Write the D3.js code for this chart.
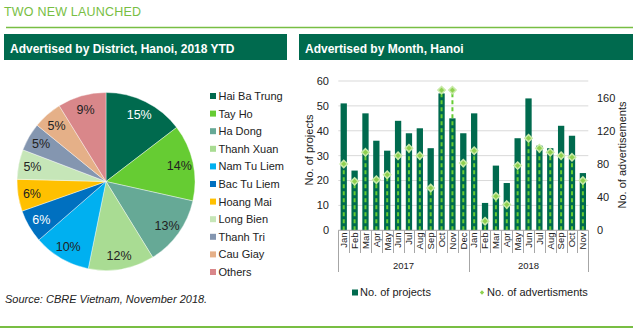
<!DOCTYPE html>
<html>
<head>
<meta charset="UTF-8">
<title>Two New Launched</title>
<script src="https://d3js.org/d3.v7.min.js"></script>
<style>
    * { margin: 0; padding: 0; }
    body { background: #fff; width: 633px; height: 335px; overflow: hidden; }
    svg { display: block; font-family: 'Liberation Sans', Arial, sans-serif; }
    .hdr { fill: #fff; font-size: 12px; font-weight: bold; }
    .tick-lbl { font-size: 11px; fill: #222; }
    .month-lbl { font-size: 9.5px; fill: #222; }
    .leg { font-size: 11px; fill: #222; }
</style>
</head>
<body>
<div id="chart"></div>
<script>
    // Pie data - share of advertised projects by district
    const districts = ["Hai Ba Trung", "Tay Ho", "Ha Dong", "Thanh Xuan", "Nam Tu Liem", "Bac Tu Liem",
        "Hoang Mai", "Long Bien", "Thanh Tri", "Cau Giay", "Others"];
    const districtShare = [14.6, 13.9, 12.7, 12.0, 10.4, 6.0, 5.8, 5.4, 5.1, 5.3, 8.8];

    // Bar/line data by month
    const years = ["2017", "2018"];
    const months2017 = ["Jan", "Feb", "Mar", "Apr", "May", "Jun", "Jul", "Aug", "Sep", "Oct", "Nov", "Dec"];
    const months2018 = ["Jan", "Feb", "Mar", "Apr", "May", "Jun", "Jul", "Aug", "Sep", "Oct", "Nov"];
    const projects = [51, 24, 47, 36, 32, 44, 39, 41, 33, 55, 45, 39,
                      47, 11, 26, 19, 37, 53, 34, 33, 42, 38, 23];
    const adverts = [80, 59, 94, 61, 67, 90, 99, 90, 51, 169, 169, 81,
                     96, 11, 41, 31, 78, 111, 99, 94, 90, 88, 60];
    const leftTicks = [0, 10, 20, 30, 40, 50, 60];
    const rightTicks = [0, 40, 80, 120, 160];

    const pieColors = ["#006a4e", "#66cc33", "#66a996", "#a9dc93", "#00b0f0", "#0070c0",
        "#ffc000", "#c6e6b8", "#8496b0", "#e5b088", "#d9878a"];
    const whiteLabels = [0, 5];

    const W = 633, H = 335;
    const svg = d3.select("#chart").append("svg")
        .attr("width", W).attr("height", H);

    // ---- page frame ----
    svg.append("text")
        .attr("x", 4).attr("y", 16)
        .attr("fill", "#78be43")
        .style("font-size", "12.5px")
        .style("letter-spacing", "0.2px")
        .text("TWO NEW LAUNCHED");
    svg.append("line").attr("x1", 6).attr("x2", W).attr("y1", 27.5).attr("y2", 27.5)
        .attr("stroke", "#78be43").attr("stroke-width", 1.5);
    svg.append("line").attr("x1", 0).attr("x2", W).attr("y1", 327).attr("y2", 327)
        .attr("stroke", "#78be43").attr("stroke-width", 2);

    svg.append("rect").attr("x", 4).attr("y", 34).attr("width", 283).attr("height", 26).attr("fill", "#006a4e");
    svg.append("text").attr("class", "hdr").attr("x", 10).attr("y", 52.5)
        .text("Advertised by District, Hanoi, 2018 YTD");
    svg.append("rect").attr("x", 299).attr("y", 34).attr("width", W - 299).attr("height", 26).attr("fill", "#006a4e");
    svg.append("text").attr("class", "hdr").attr("x", 305).attr("y", 52.5)
        .text("Advertised by Month, Hanoi");

    svg.append("text")
        .attr("x", 5).attr("y", 303)
        .style("font-size", "11px").style("font-style", "italic").attr("fill", "#222")
        .text("Source: CBRE Vietnam, November 2018.");

    // ---- pie ----
    const cx = 106, cy = 181.5, R = 89;
    const pie = d3.pie().sort(null).value(d => d);
    const arc = d3.arc().innerRadius(0).outerRadius(R);
    const labelArc = d3.arc().innerRadius(75).outerRadius(75);
    const pg = svg.append("g").attr("transform", `translate(${cx},${cy})`);
    const arcs = pie(districtShare);

    pg.selectAll("path").data(arcs).enter().append("path")
        .attr("d", arc)
        .attr("fill", (d, i) => pieColors[i])
        .attr("stroke", "#fff").attr("stroke-width", 0.4);

    pg.selectAll("text").data(arcs).enter().append("text")
        .attr("transform", d => `translate(${labelArc.centroid(d)})`)
        .attr("text-anchor", "middle")
        .attr("dy", "0.36em")
        .style("font-size", "12.5px")
        .attr("fill", (d, i) => whiteLabels.includes(i) ? "#fff" : "#222")
        .text(d => Math.round(d.data) + "%");

    const lg = svg.append("g").attr("transform", "translate(210,96)");
    districts.forEach((name, i) => {
        const row = lg.append("g").attr("transform", `translate(0,${i * 17.6})`);
        row.append("rect").attr("x", 0).attr("y", -3).attr("width", 6).attr("height", 6).attr("fill", pieColors[i]);
        row.append("text").attr("class", "leg").attr("x", 8.5).attr("dy", "0.36em").text(name);
    });

    // ---- bar + line chart ----
    const keys = months2017.map(m => "2017-" + m).concat(months2018.map(m => "2018-" + m));
    const x0 = 338.3, x1 = 588.3, yTop = 81, yBase = 230.3;
    const x = d3.scaleBand().domain(keys).range([x0, x1]).paddingInner(0.42).paddingOuter(0.21);
    const step = (x1 - x0) / keys.length;
    const yL = d3.scaleLinear().domain([0, 60]).range([yBase, yTop]);
    const yR = d3.scaleLinear().domain([0, 180]).range([yBase, yTop]);

    const bg = svg.append("g");
    bg.selectAll("line.grid").data(leftTicks.slice(1)).enter().append("line")
        .attr("x1", x0).attr("x2", x1)
        .attr("y1", d => yL(d)).attr("y2", d => yL(d))
        .attr("stroke", "#d9d9d9").attr("stroke-width", 1);

    bg.selectAll("text.l").data(leftTicks).enter().append("text")
        .attr("class", "tick-lbl")
        .attr("x", 329).attr("y", d => yL(d)).attr("dy", "0.36em")
        .attr("text-anchor", "end").text(d => d);
    bg.selectAll("text.r").data(rightTicks).enter().append("text")
        .attr("class", "tick-lbl")
        .attr("x", 597).attr("y", d => yR(d)).attr("dy", "0.36em")
        .text(d => d);

    svg.append("text").attr("class", "tick-lbl")
        .attr("transform", "translate(313,150) rotate(-90)")
        .attr("text-anchor", "middle").text("No. of projects");
    svg.append("text").attr("class", "tick-lbl")
        .attr("transform", "translate(626,155) rotate(-90)")
        .attr("text-anchor", "middle").text("No. of advertisements");

    // bars
    bg.selectAll("rect.bar").data(projects).enter().append("rect")
        .attr("x", (d, i) => x(keys[i]))
        .attr("width", x.bandwidth())
        .attr("y", d => yL(d))
        .attr("height", d => yBase - yL(d))
        .attr("fill", "#006a4e");

    // dashed drop lines + diamonds
    bg.selectAll("line.drop").data(adverts).enter().append("line")
        .attr("x1", (d, i) => x(keys[i]) + x.bandwidth() / 2)
        .attr("x2", (d, i) => x(keys[i]) + x.bandwidth() / 2)
        .attr("y1", yBase).attr("y2", d => yR(d))
        .attr("stroke", "#66cc33").attr("stroke-width", 2)
        .attr("stroke-dasharray", "4,3");

    const diamond = d3.symbol().type(d3.symbolDiamond2).size(34);
    bg.selectAll("path.dia").data(adverts).enter().append("path")
        .attr("d", diamond)
        .attr("transform", (d, i) => `translate(${x(keys[i]) + x.bandwidth() / 2},${yR(d)})`)
        .attr("fill", "#8fd14f")
        .attr("stroke", "#c8eaa8").attr("stroke-width", 1.5);

    // category axis
    bg.append("line").attr("x1", x0).attr("x2", x1).attr("y1", yBase).attr("y2", yBase)
        .attr("stroke", "#a6a6a6");
    d3.range(keys.length + 1).forEach(i => {
        const xx = Math.round(x0 + i * step) + 0.5;
        const yearEdge = i === 0 || i === months2017.length || i === keys.length;
        bg.append("line").attr("x1", xx).attr("x2", xx)
            .attr("y1", yBase).attr("y2", yearEdge ? 272 : 253)
            .attr("stroke", "#a6a6a6");
    });
    bg.selectAll("text.m").data(keys).enter().append("text")
        .attr("class", "month-lbl")
        .attr("transform", d => `translate(${x(d) + x.bandwidth() / 2},232.5) rotate(-90)`)
        .attr("text-anchor", "end").attr("dy", "0.35em")
        .text(d => d.split("-")[1]);
    const yearCounts = [months2017.length, months2018.length];
    years.forEach((yv, j) => {
        const start = j === 0 ? 0 : yearCounts[0];
        const mid = x0 + (start + yearCounts[j] / 2) * step;
        bg.append("text").attr("class", "month-lbl")
            .attr("x", mid).attr("y", 268.5)
            .attr("text-anchor", "middle").text(yv);
    });

    // legend
    const bl = svg.append("g");
    bl.append("rect").attr("x", 352).attr("y", 289.5).attr("width", 6).attr("height", 6).attr("fill", "#006a4e");
    bl.append("text").attr("class", "leg").attr("x", 360).attr("y", 292.5).attr("dy", "0.36em").text("No. of projects");
    bl.append("path").attr("d", d3.symbol().type(d3.symbolDiamond2).size(12))
        .attr("transform", "translate(482,292.5)").attr("fill", "#8fd14f");
    bl.append("text").attr("class", "leg").attr("x", 487).attr("y", 292.5).attr("dy", "0.36em").text("No. of advertisments");
</script>
</body>
</html>
